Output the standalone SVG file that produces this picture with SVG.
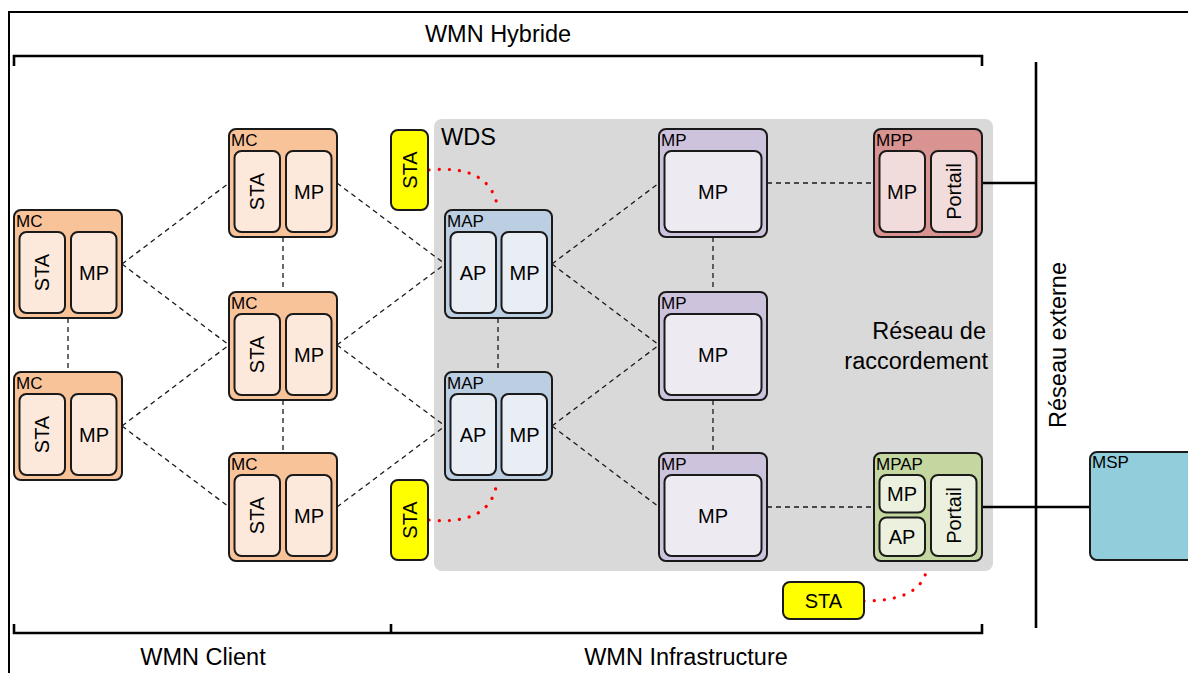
<svg xmlns="http://www.w3.org/2000/svg" width="1188" height="673" viewBox="0 0 1188 673">
<style>
text{font-family:"Liberation Sans",Arial,sans-serif;fill:#000}
.big{font-size:20px}
.title{font-size:23.5px}
.lbl{font-size:17px}
.mid{text-anchor:middle;dominant-baseline:central}
.o{stroke:#1a1a1a;stroke-width:2}
.i{stroke:#1a1a1a;stroke-width:2}
.dash{fill:none;stroke:#1a1a1a;stroke-width:1.3;stroke-dasharray:5 4}
.dot{fill:none;stroke:#ff0000;stroke-width:3.2;stroke-linecap:round;stroke-dasharray:0.1 10}
.thick{fill:none;stroke:#000;stroke-width:2.6}
.mcO{fill:#f9c39a}.mcI{fill:#fde9dc}
.mapO{fill:#bccfe2}.mapI{fill:#e9edf4}
.mpO{fill:#cdc3dc}.mpI{fill:#edeaf1}
.mppO{fill:#d99491}.mppI{fill:#f2dcdb}
.mpapO{fill:#c4d7a0}.mpapI{fill:#ebf1de}
.sta{fill:#ffff00;stroke:#1a1a1a;stroke-width:2}
</style>
<rect width="1188" height="673" fill="#fff"/>
<g id="frame">
<path d="M8,12 H1188 M9,12 V673" fill="none" stroke="#000" stroke-width="2"/>
<path class="thick" d="M14,66 V56 H982 V66"/>
<path class="thick" d="M14,624 V633 H982 V624 M391,624 V633"/>
<text class="title" x="498" y="42" text-anchor="middle">WMN Hybride</text>
<text class="title" x="203" y="665" text-anchor="middle">WMN Client</text>
<text class="title" x="686" y="665" text-anchor="middle">WMN Infrastructure</text>
</g>
<g id="wds">
<rect x="434" y="119" width="559" height="452" rx="8" fill="#d9d9d9"/>
<text class="title" x="441" y="145">WDS</text>
<text class="title" x="986" y="339" text-anchor="end">Réseau de</text>
<text class="title" x="988" y="369" text-anchor="end">raccordement</text>
</g>
<g id="external">
<path class="thick" d="M1036,62 V628"/>
<text class="title" transform="translate(1066,345) rotate(-90)" text-anchor="middle">Réseau externe</text>
</g>
<g id="connectors">
<path class="dash" d="M68,318 V372 M283,237 V292 M283,400 V453 M498,318 V372 M713,237 V292 M713,400 V453"/>
<path class="dash" d="M122,264 L229,183 M122,264 L229,345 M122,426 L229,345 M122,426 L229,507"/>
<path class="dash" d="M337,183 L445,264 M337,345 L445,264 M337,345 L445,426 M337,507 L445,426"/>
<path class="dash" d="M552,264 L659,183 M552,264 L659,345 M552,426 L659,345 M552,426 L659,507"/>
<path class="dash" d="M767,183 H874 M767,507 H874"/>
<path class="dot" d="M429,170 Q492,164 498,210"/>
<path class="dot" d="M429,520 Q492,526 497,481"/>
<path class="dot" d="M864,601 Q923,601 927,567"/>
<path class="thick" d="M982,183 H1036 M982,507 H1090"/>
</g>
<g id="mc1" transform="translate(14,210)">
<rect class="o mcO" width="108" height="108" rx="7"/>
<text class="lbl" x="2" y="17">MC</text>
<rect class="i mcI" x="5.5" y="22" width="45.5" height="81" rx="7"/>
<rect class="i mcI" x="57" y="22" width="45.5" height="81" rx="7"/>
<text class="big mid" transform="translate(28,62.5) rotate(-90)">STA</text>
<text class="big mid" x="80" y="62.5">MP</text>
</g>
<g id="mc2" transform="translate(14,372)">
<rect class="o mcO" width="108" height="108" rx="7"/>
<text class="lbl" x="2" y="17">MC</text>
<rect class="i mcI" x="5.5" y="22" width="45.5" height="81" rx="7"/>
<rect class="i mcI" x="57" y="22" width="45.5" height="81" rx="7"/>
<text class="big mid" transform="translate(28,62.5) rotate(-90)">STA</text>
<text class="big mid" x="80" y="62.5">MP</text>
</g>
<g id="mc3" transform="translate(229,129)">
<rect class="o mcO" width="108" height="108" rx="7"/>
<text class="lbl" x="2" y="17">MC</text>
<rect class="i mcI" x="5.5" y="22" width="45.5" height="81" rx="7"/>
<rect class="i mcI" x="57" y="22" width="45.5" height="81" rx="7"/>
<text class="big mid" transform="translate(28,62.5) rotate(-90)">STA</text>
<text class="big mid" x="80" y="62.5">MP</text>
</g>
<g id="mc4" transform="translate(229,292)">
<rect class="o mcO" width="108" height="108" rx="7"/>
<text class="lbl" x="2" y="17">MC</text>
<rect class="i mcI" x="5.5" y="22" width="45.5" height="81" rx="7"/>
<rect class="i mcI" x="57" y="22" width="45.5" height="81" rx="7"/>
<text class="big mid" transform="translate(28,62.5) rotate(-90)">STA</text>
<text class="big mid" x="80" y="62.5">MP</text>
</g>
<g id="mc5" transform="translate(229,453)">
<rect class="o mcO" width="108" height="108" rx="7"/>
<text class="lbl" x="2" y="17">MC</text>
<rect class="i mcI" x="5.5" y="22" width="45.5" height="81" rx="7"/>
<rect class="i mcI" x="57" y="22" width="45.5" height="81" rx="7"/>
<text class="big mid" transform="translate(28,62.5) rotate(-90)">STA</text>
<text class="big mid" x="80" y="62.5">MP</text>
</g>
<g id="sta1">
<rect class="sta" x="391" y="130" width="37" height="80" rx="7"/>
<text class="big mid" transform="translate(409.5,170) rotate(-90)">STA</text>
</g>
<g id="sta2">
<rect class="sta" x="391" y="480" width="37" height="80" rx="7"/>
<text class="big mid" transform="translate(409.5,520) rotate(-90)">STA</text>
</g>
<g id="sta3">
<rect class="sta" x="783" y="582" width="81" height="37" rx="7"/>
<text class="big mid" x="823.5" y="600.5">STA</text>
</g>
<g id="map1" transform="translate(445,210)">
<rect class="o mapO" width="107" height="108" rx="7"/>
<text class="lbl" x="2" y="17">MAP</text>
<rect class="i mapI" x="5.5" y="22" width="45.5" height="81" rx="7"/>
<rect class="i mapI" x="56.5" y="22" width="45.5" height="81" rx="7"/>
<text class="big mid" x="28" y="62.5">AP</text>
<text class="big mid" x="79.5" y="62.5">MP</text>
</g>
<g id="map2" transform="translate(445,372)">
<rect class="o mapO" width="107" height="108" rx="7"/>
<text class="lbl" x="2" y="17">MAP</text>
<rect class="i mapI" x="5.5" y="22" width="45.5" height="81" rx="7"/>
<rect class="i mapI" x="56.5" y="22" width="45.5" height="81" rx="7"/>
<text class="big mid" x="28" y="62.5">AP</text>
<text class="big mid" x="79.5" y="62.5">MP</text>
</g>
<g id="mp1" transform="translate(659,129)">
<rect class="o mpO" width="108" height="108" rx="7"/>
<text class="lbl" x="2" y="17">MP</text>
<rect class="i mpI" x="5.5" y="22" width="97" height="81" rx="7"/>
<text class="big mid" x="54" y="62.5">MP</text>
</g>
<g id="mp2" transform="translate(659,292)">
<rect class="o mpO" width="108" height="108" rx="7"/>
<text class="lbl" x="2" y="17">MP</text>
<rect class="i mpI" x="5.5" y="22" width="97" height="81" rx="7"/>
<text class="big mid" x="54" y="62.5">MP</text>
</g>
<g id="mp3" transform="translate(659,453)">
<rect class="o mpO" width="108" height="108" rx="7"/>
<text class="lbl" x="2" y="17">MP</text>
<rect class="i mpI" x="5.5" y="22" width="97" height="81" rx="7"/>
<text class="big mid" x="54" y="62.5">MP</text>
</g>
<g id="mpp" transform="translate(874,129)">
<rect class="o mppO" width="108" height="108" rx="7"/>
<text class="lbl" x="2" y="17">MPP</text>
<rect class="i mppI" x="5.5" y="22" width="45.5" height="81" rx="7"/>
<rect class="i mppI" x="57" y="22" width="45.5" height="81" rx="7"/>
<text class="big mid" x="28" y="62.5">MP</text>
<text class="big mid" transform="translate(80,62.5) rotate(-90)">Portail</text>
</g>
<g id="mpap" transform="translate(874,453)">
<rect class="o mpapO" width="108" height="108" rx="7"/>
<text class="lbl" x="2" y="17">MPAP</text>
<rect class="i mpapI" x="5.5" y="22" width="45.5" height="37.5" rx="7"/>
<rect class="i mpapI" x="5.5" y="64.5" width="45.5" height="38.5" rx="7"/>
<rect class="i mpapI" x="57" y="22" width="45.5" height="81" rx="7"/>
<text class="big mid" x="28" y="41">MP</text>
<text class="big mid" x="28" y="84">AP</text>
<text class="big mid" transform="translate(80,62.5) rotate(-90)">Portail</text>
</g>
<g id="msp">
<rect x="1090" y="452" width="106" height="108" rx="7" fill="#92cddc" stroke="#1a1a1a" stroke-width="2"/>
<text class="lbl" x="1092" y="468">MSP</text>
</g>
</svg>
